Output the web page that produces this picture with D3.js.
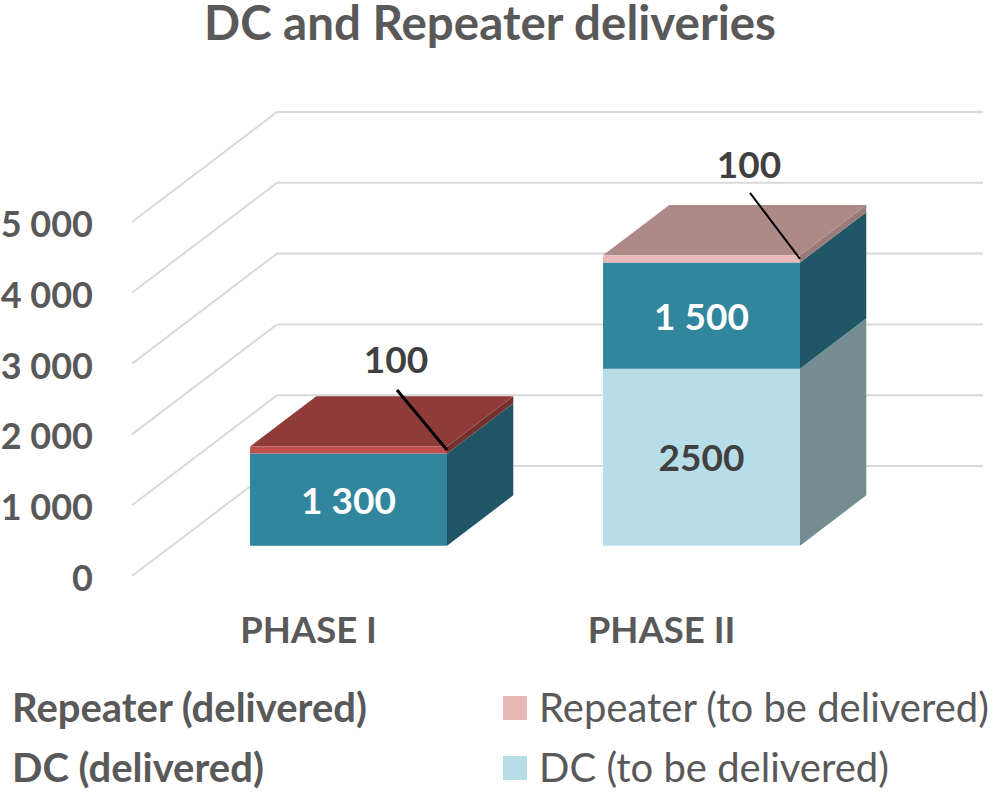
<!DOCTYPE html>
<html>
<head>
<meta charset="utf-8">
<script src="https://cdn.jsdelivr.net/npm/d3@7"></script>
<style>
    html, body { margin: 0; padding: 0; background: #fff; }
    text { font-family: Lato, "Open Sans", sans-serif; fill: #595959; }
    .domain { display: none; }
</style>
</head>
<body>
<div id="chart"></div>
<script>
const categories = ["PHASE I", "PHASE II"];
const dcToBeDelivered = [0, 2500];
const dcDelivered = [1300, 1500];
const repeaterDelivered = [100, 0];
const repeaterToBeDelivered = [0, 100];
const yTicks = [0, 1000, 2000, 3000, 4000, 5000];
const seriesNames = ["DC (to be delivered)", "DC (delivered)", "Repeater (delivered)", "Repeater (to be delivered)"];

// front, top and side colour of each stack layer
const layerColors = [
    {front: "#b7dee8", top: "#92b2ba", side: "#748d93"},
    {front: "#31859c", top: "#276a7c", side: "#1f5565"},
    {front: "#bf4f4c", top: "#8e3b39", side: "#73302e"},
    {front: "#e6b8b7", top: "#ac8a88", side: "#9a7b7a"}
];
const labelText = {
    "DC (to be delivered)": d3.format("d"),
    "DC (delivered)": d3.formatLocale({decimal: ".", thousands: " ", grouping: [3], currency: ["", ""]}).format(",")
};

const width = 999, height = 792;
const svg = d3.select("#chart").append("svg")
    .attr("width", width)
    .attr("height", height)
    .style("display", "block");

// 3d box: depth is a fraction of the floor, projected up and to the right
const depthX = d3.scaleLinear().domain([0, 1]).range([0, 145]);
const depthY = d3.scaleLinear().domain([0, 1]).range([0, -110]);
const barFront = 0.276, barBack = 0.733;

const x = d3.scaleBand().domain(categories).range([132, 838])
    .paddingInner(0.442).paddingOuter(0.221);
const y = d3.scaleLinear().domain([0, 5000]).range([576, 222]);

const line = d3.line();
const polygon = pts => line(pts) + "Z";
const project = (px, value, depth) => [px + depthX(depth), y(value) + depthY(depth)];

// Title
svg.append("text")
    .attr("x", 490)
    .attr("y", 40)
    .attr("text-anchor", "middle")
    .style("font-size", "47.5px")
    .style("font-weight", 700)
    .text("DC and Repeater deliveries");

// Gridlines: side wall then back wall
svg.append("g").selectAll("path")
    .data(yTicks)
    .join("path")
    .attr("fill", "none")
    .attr("stroke", "#d9d9d9")
    .attr("stroke-width", 2)
    .attr("d", d => line([project(x.range()[0], d, 0), project(x.range()[0], d, 1), project(x.range()[1], d, 1)]));

// Axes
const numberFormat = labelText["DC (delivered)"];
const yAxis = svg.append("g")
    .attr("transform", "translate(93,0)")
    .call(d3.axisLeft(y).tickValues(yTicks).tickFormat(numberFormat).tickSize(0).tickPadding(0));
yAxis.selectAll("text")
    .style("font-size", "36px")
    .style("font-weight", 700)
    .attr("dy", "0.4em");

const xAxis = svg.append("g")
    .attr("transform", "translate(0,617)")
    .call(d3.axisBottom(x).tickSize(0).tickPadding(0));
xAxis.selectAll("text")
    .style("font-size", "36.5px")
    .style("font-weight", 700)
    .attr("dy", "0.71em");

// Stacked boxes
const rows = categories.map((c, i) => ({
    category: c,
    [seriesNames[0]]: dcToBeDelivered[i],
    [seriesNames[1]]: dcDelivered[i],
    [seriesNames[2]]: repeaterDelivered[i],
    [seriesNames[3]]: repeaterToBeDelivered[i]
}));
const stacked = d3.stack().keys(seriesNames)(rows);

const bars = svg.append("g");
stacked.forEach((layer, k) => {
    layer.forEach(seg => {
        const [y0, y1] = seg;
        if (y1 === y0) return;
        const total = d3.sum(seriesNames, s => seg.data[s]);
        const left = x(seg.data.category);
        const right = left + x.bandwidth();
        const g = bars.append("g");

        g.append("path")
            .attr("fill", layerColors[k].side)
            .attr("d", polygon([
                project(right, y0, barFront), project(right, y0, barBack),
                project(right, y1, barBack), project(right, y1, barFront)
            ]));
        if (y1 === total) {
            g.append("path")
                .attr("fill", layerColors[k].top)
                .attr("d", polygon([
                    project(left, y1, barFront), project(left, y1, barBack),
                    project(right, y1, barBack), project(right, y1, barFront)
                ]));
        }
        g.append("path")
            .attr("fill", layerColors[k].front)
            .attr("d", polygon([
                project(left, y0, barFront), project(right, y0, barFront),
                project(right, y1, barFront), project(left, y1, barFront)
            ]));
    });
});

// Data labels, the two small repeater layers get a leader line
const labels = svg.append("g");
stacked.forEach((layer, k) => {
    layer.forEach(seg => {
        const value = seg[1] - seg[0];
        if (value === 0) return;
        const left = x(seg.data.category);
        const right = left + x.bandwidth();
        const mid = project(left + x.bandwidth() / 2, (seg[0] + seg[1]) / 2, barFront);
        if (k >= 2) {
            const end = project(right, (seg[0] + seg[1]) / 2, barFront);
            const rise = k === 2 ? 60 : 66;
            labels.append("path")
                .attr("fill", "none")
                .attr("stroke", "#000")
                .attr("stroke-width", k === 2 ? 3 : 2)
                .attr("d", line([[end[0] - 50, end[1] - rise], end]));
            labels.append("text")
                .attr("x", end[0] - 51)
                .attr("y", end[1] - rise - (k === 2 ? 17 : 15))
                .attr("text-anchor", "middle")
                .style("font-size", "37px")
                .style("font-weight", 700)
                .style("fill", "#404040")
                .text(value);
        } else {
            labels.append("text")
                .attr("x", mid[0])
                .attr("y", mid[1] + 14)
                .attr("text-anchor", "middle")
                .style("font-size", "37px")
                .style("font-weight", 700)
                .style("fill", k === 1 ? "#fff" : "#404040")
                .text(labelText[seriesNames[k]](value));
        }
    });
});

// Legend
const legend = svg.append("g");
[[2, 12, 720, true], [1, 12, 780, true], [3, 539, 720, false], [0, 539, 780, false]].forEach(([k, lx, ly, bold]) => {
    if (!bold) {
        legend.append("rect")
            .attr("x", 503)
            .attr("y", ly - 24)
            .attr("width", 24)
            .attr("height", 24)
            .attr("fill", layerColors[k].front);
    }
    legend.append("text")
        .attr("x", lx)
        .attr("y", ly + 2)
        .style("font-size", "40px")
        .style("font-weight", bold ? 700 : 400)
        .text(seriesNames[k]);
});
</script>
</body>
</html>
